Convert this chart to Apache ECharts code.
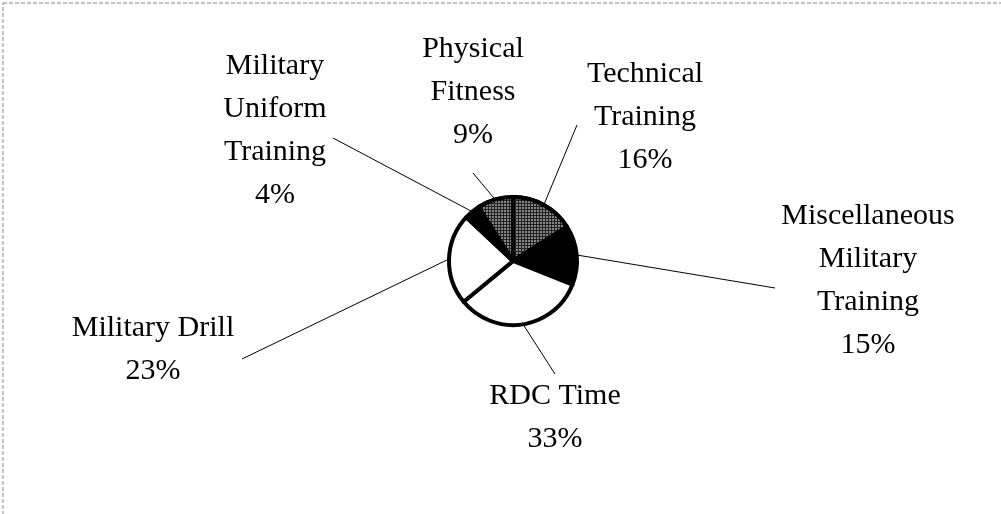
<!DOCTYPE html>
<html>
<head>
<meta charset="utf-8">
<script src="https://cdn.jsdelivr.net/npm/echarts@6/dist/echarts.min.js"></script>
<style>
    html, body {margin: 0; padding: 0; background: #fff;}
    #main {width: 1001px; height: 514px;}
</style>
</head>
<body>
<div id="main"></div>
<script>
// slices, clockwise from 12 o'clock
const categories = ['Technical\nTraining', 'Miscellaneous\nMilitary\nTraining', 'RDC Time',
    'Military Drill', 'Military\nUniform\nTraining', 'Physical\nFitness'];
const percents = [16, 15, 33, 23, 4, 9];
const fills = ['#222', '#000', '#fff', '#fff', '#000', '#222'];
const patterned = [true, false, false, false, false, true];

// where each label block sits and where its leader line stops (page px)
const labelCenter = [[645, 117], [868, 281], [555, 418], [153, 350], [275, 131], [473, 92]];
const lineEnd = [[577, 125], [775, 288], [555, 374], [242, 359], [333, 138], [473, 173]];

let myChart = echarts.init(document.getElementById('main'));

let pieData = categories.map((name, i) => {
    let item = {
        name: name,
        value: percents[i],
        itemStyle: {color: fills[i]}
    };
    if (patterned[i]) {
        item.itemStyle.decal = {
            symbol: 'rect',
            symbolSize: 1,
            color: 'rgba(255,255,255,0.45)',
            dashArrayX: [2, 1],
            dashArrayY: [2, 1],
            rotation: 0
        };
    }
    return item;
});

myChart.setOption({
    backgroundColor: '#fff',
    animation: false,
    graphic: [
        {
            type: 'rect',
            shape: {x: 3, y: 3, width: 1010, height: 530},
            style: {fill: 'none', stroke: '#888', lineWidth: 1, lineDash: [4, 2]}
        }
    ],
    series: [
        {
            type: 'pie',
            center: [513, 261],
            radius: 64,
            startAngle: 90,
            clockwise: true,
            avoidLabelOverlap: false,
            itemStyle: {
                borderColor: '#000',
                borderWidth: 4
            },
            label: {
                show: true,
                position: 'outside',
                formatter: '{b}\n{c}%',
                fontFamily: 'Liberation Serif',
                fontSize: 30,
                lineHeight: 43,
                color: '#000',
                align: 'center'
            },
            labelLine: {
                show: true,
                length: 20,
                length2: 20,
                smooth: false,
                lineStyle: {color: '#000', width: 1}
            },
            labelLayout: function (params) {
                let i = params.dataIndex;
                let p0 = params.labelLinePoints ? params.labelLinePoints[0] : lineEnd[i];
                return {
                    x: labelCenter[i][0],
                    y: labelCenter[i][1],
                    align: 'center',
                    verticalAlign: 'middle',
                    labelLinePoints: [p0, lineEnd[i], lineEnd[i]]
                };
            },
            emphasis: {disabled: true},
            data: pieData
        }
    ]
});
</script>
</body>
</html>
